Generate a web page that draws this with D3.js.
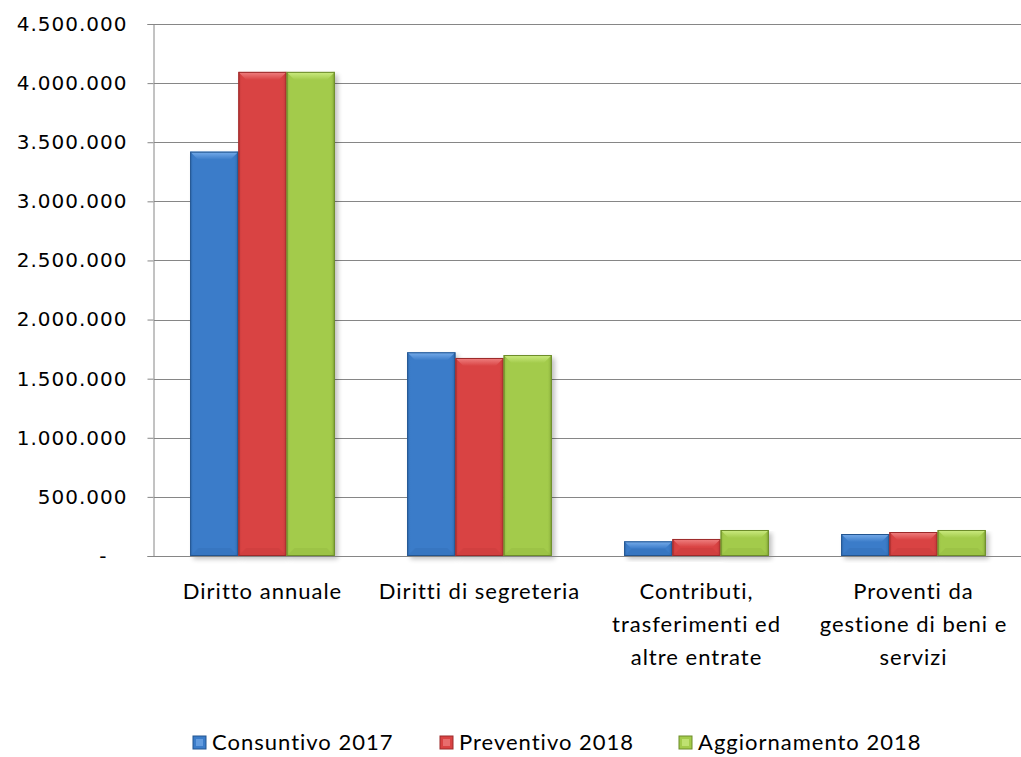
<!DOCTYPE html>
<html><head><meta charset="utf-8">
<script src="https://cdn.jsdelivr.net/npm/d3@7"></script>
<style>body{margin:0;background:#fff}svg{display:block}</style>
</head><body>
<svg id="c" width="1021" height="757"></svg>
<script>
const categories = [["Diritto annuale"],["Diritti di segreteria"],["Contributi,","trasferimenti ed","altre entrate"],["Proventi da","gestione di beni e","servizi"]];
const seriesNames = ["Consuntivo 2017","Preventivo 2018","Aggiornamento 2018"];
const consuntivo2017 = [3420000, 1723000, 124000, 186000];
const preventivo2018 = [4095000, 1675000, 144000, 203000];
const aggiornamento2018 = [4095000, 1700000, 220000, 220000];
const yTicks = [0,500000,1000000,1500000,2000000,2500000,3000000,3500000,4000000,4500000];
const colors = ["#3b7cc9","#d94343","#a3cb4b"];
const darks = ["#23558f","#9c2a2a","#6c8c2a"];
const lights = ["#7fb3ef","#f28a8a","#d2f08a"];

const series = [consuntivo2017, preventivo2018, aggiornamento2018];
const svg = d3.select("#c");
const pL = 154, pR = 1022, pT = 24, pB = 556;
const x0 = d3.scaleBand().domain(d3.range(categories.length)).range([pL,pR]).paddingInner(0).paddingOuter(0);
const x1 = d3.scaleBand().domain(d3.range(series.length)).range([0,x0.bandwidth()]).paddingOuter(0.75).paddingInner(0);
const y = d3.scaleLinear().domain([0,4500000]).range([pB,pT]);
const loc = d3.formatLocale({decimal:",",thousands:".",grouping:[3],currency:["",""]});
const fmt = loc.format(",.0f");
const FONT = "Lato";

const defs = svg.append("defs");
colors.forEach((c,i)=>{
  const g = defs.append("linearGradient").attr("id","h"+i).attr("x1",0).attr("x2",1).attr("y1",0).attr("y2",0);
  g.append("stop").attr("offset",0).attr("stop-color",darks[i]).attr("stop-opacity",0.55);
  g.append("stop").attr("offset",0.08).attr("stop-color",c).attr("stop-opacity",0);
  g.append("stop").attr("offset",0.9).attr("stop-color",c).attr("stop-opacity",0);
  g.append("stop").attr("offset",1).attr("stop-color",darks[i]).attr("stop-opacity",0.7);
  const v = defs.append("linearGradient").attr("id","v"+i).attr("x1",0).attr("x2",0).attr("y1",0).attr("y2",1);
  v.append("stop").attr("offset",0).attr("stop-color",lights[i]);
  v.append("stop").attr("offset",1).attr("stop-color",c);
});
const sh = defs.append("filter").attr("id","sh").attr("x","-20%").attr("y","-5%").attr("width","140%").attr("height","120%");
sh.append("feGaussianBlur").attr("stdDeviation",2.5);

svg.append("g").selectAll("line").data(yTicks.slice(1)).join("line")
  .attr("x1",pL).attr("x2",1021).attr("y1",d=>Math.round(y(d))+0.5).attr("y2",d=>Math.round(y(d))+0.5)
  .attr("stroke","#868686").attr("stroke-width",1);

const groups = svg.append("g").selectAll("g").data(categories).join("g")
  .attr("transform",(d,i)=>`translate(${x0(i)},0)`);
groups.each(function(d,ci){
  const g = d3.select(this);
  series.forEach((s,si)=>{
    const bx = x1(si), bw = x1.bandwidth(), by = y(s[ci]), bh = pB - y(s[ci]);
    g.append("rect").attr("x",bx+3).attr("y",by+3).attr("width",bw).attr("height",bh)
      .attr("fill","#000").attr("opacity",0.25).attr("filter","url(#sh)");
  });
});
groups.each(function(d,ci){
  const g = d3.select(this);
  series.forEach((s,si)=>{
    const bx = x1(si), bw = x1.bandwidth(), by = y(s[ci]), bh = pB - y(s[ci]);
    const b = Math.min(8, bh/2);
    g.append("rect").attr("x",bx).attr("y",by).attr("width",bw).attr("height",bh).attr("fill",colors[si]);
    g.append("rect").attr("x",bx).attr("y",by).attr("width",bw).attr("height",bh).attr("fill",`url(#h${si})`);
    g.append("path").attr("d",`M${bx},${by}L${bx+bw},${by}L${bx+bw-b},${by+b}L${bx+b},${by+b}Z`).attr("fill",`url(#v${si})`).attr("opacity",0.9);
    g.append("path").attr("d",`M${bx},${by+bh}L${bx+bw},${by+bh}L${bx+bw-b},${by+bh-b}L${bx+b},${by+bh-b}Z`).attr("fill",darks[si]).attr("opacity",0.12);
    g.append("rect").attr("x",bx+0.5).attr("y",by+0.5).attr("width",bw-1).attr("height",bh-1).attr("fill","none").attr("stroke",darks[si]).attr("stroke-width",1);
  });
});

const ya = svg.append("g").attr("transform",`translate(${pL-0.5},0)`)
  .call(d3.axisLeft(y).tickValues(yTicks).tickSize(6).tickPadding(20).tickFormat(d=>d===0?"-":fmt(d)));
ya.select(".domain").attr("stroke","#868686");
ya.selectAll(".tick line").attr("stroke","#868686");
ya.selectAll("text").attr("font-family","DejaVu Sans").attr("font-size","20px").attr("letter-spacing","1px").attr("fill","#000");
ya.selectAll(".tick").filter(d=>d===0).select("text").attr("dx","-20");

svg.append("line").attr("x1",pL).attr("x2",1021).attr("y1",pB+0.5).attr("y2",pB+0.5).attr("stroke","#868686");

svg.append("g").selectAll("text").data(categories).join("text")
  .attr("x",(d,i)=>x0(i)+x0.bandwidth()/2).attr("y",599)
  .attr("text-anchor","middle").attr("font-family",FONT).attr("font-size","22px").attr("letter-spacing","1px").attr("fill","#000")
  .each(function(lines){
    const sx = d3.select(this).attr("x");
    d3.select(this).selectAll("tspan").data(lines).join("tspan")
      .attr("x",sx).attr("dy",(d,i)=>i===0?0:33).text(d=>d);
  });

const legX = [193, 440, 679];
const leg = svg.append("g").selectAll("g").data(seriesNames).join("g")
  .attr("transform",(d,i)=>`translate(${legX[i]},736)`);
leg.append("rect").attr("width",13).attr("height",13).attr("fill",(d,i)=>colors[i]).attr("stroke",(d,i)=>darks[i]);
leg.append("rect").attr("x",3).attr("y",3).attr("width",7).attr("height",7).attr("fill",(d,i)=>lights[i]).attr("opacity",0.6);
leg.append("text").attr("x",19).attr("y",14).attr("font-family",FONT).attr("font-size","22px").attr("letter-spacing","1px").attr("fill","#000").text(d=>d);
</script>
</body></html>
